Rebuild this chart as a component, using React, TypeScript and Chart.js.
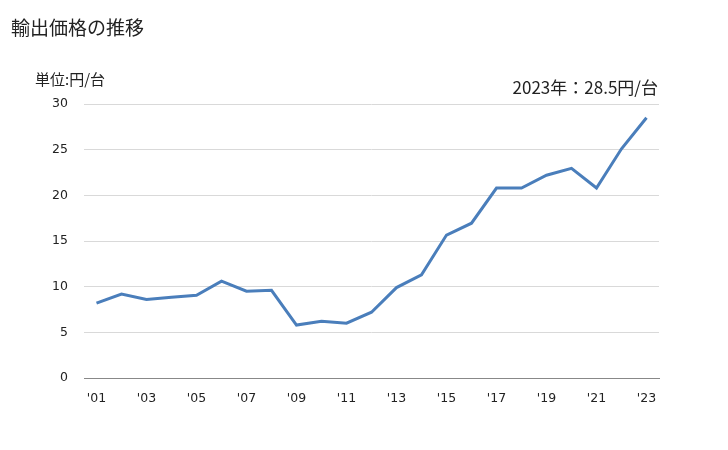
import React, { useEffect, useRef } from "react";
import { Chart, registerables } from "chart.js";

Chart.register(...registerables);

const years: string[] = [
  "'01", "'02", "'03", "'04", "'05", "'06", "'07", "'08", "'09", "'10", "'11", "'12",
  "'13", "'14", "'15", "'16", "'17", "'18", "'19", "'20", "'21", "'22", "'23",
];
const prices: number[] = [
  8.2, 9.2, 8.6, 8.85, 9.05, 10.6, 9.5, 9.6, 5.8, 6.2, 6.0, 7.2,
  9.9, 11.3, 15.65, 16.95, 20.8, 20.8, 22.2, 22.95, 20.8, 25.1, 28.5,
];
const yTicks: number[] = [0, 5, 10, 15, 20, 25, 30];

const title = "輸出価格の推移";
const unitLabel = "単位:円/台";
const latestLabel = "2023年：28.5円/台";

export default function App() {
  const ref = useRef<HTMLCanvasElement | null>(null);

  useEffect(() => {
    if (!ref.current) return;
    const chart = new Chart(ref.current, {
      type: "line",
      data: {
        labels: years,
        datasets: [
          {
            data: prices,
            borderColor: "#4a7ebb",
            borderWidth: 3,
            pointRadius: 0,
            tension: 0,
            fill: false,
          },
        ],
      },
      options: {
        animation: false,
        responsive: false,
        maintainAspectRatio: false,
        layout: { padding: { left: 0, right: 69, top: 104, bottom: 0 } },
        plugins: { legend: { display: false }, tooltip: { enabled: false } },
        scales: {
          x: {
            offset: true,
            grid: { display: false, drawTicks: false },
            border: { display: true, color: "#888888", width: 1 },
            ticks: {
              autoSkip: false,
              maxRotation: 0,
              padding: 13,
              color: "#222222",
              font: { family: "DejaVu Sans", size: 12.5 },
              callback: (_v: any, i: number) => (i % 2 === 0 ? years[i] : ""),
            },
            afterFit: (s: any) => {
              s.height = 72;
            },
          },
          y: {
            min: 0,
            max: 30,
            afterBuildTicks: (s: any) => {
              s.ticks = yTicks.map((v) => ({ value: v }));
            },
            grid: { color: "#d9d9d9", drawTicks: false, lineWidth: 1 },
            border: { display: false },
            ticks: {
              padding: 16,
              color: "#222222",
              font: { family: "DejaVu Sans", size: 12.5 },
            },
            afterFit: (s: any) => {
              s.width = 84;
            },
          },
        },
      },
    });
    return () => chart.destroy();
  }, []);

  const jp = "'Noto Sans CJK JP', 'Noto Sans', sans-serif";
  return (
    <div style={{ position: "fixed", left: 0, top: 0, width: 728, height: 450, background: "#fff" }}>
      <canvas ref={ref} width={728} height={450} style={{ position: "absolute", left: 0, top: 0 }} />
      <div style={{ position: "absolute", left: 11, top: 14, fontFamily: jp, fontSize: 19, color: "#222", lineHeight: "26px", whiteSpace: "nowrap" }}>
        {title}
      </div>
      <div style={{ position: "absolute", left: 35, top: 68, fontFamily: jp, fontSize: 15, color: "#222", lineHeight: "22px", whiteSpace: "nowrap" }}>
        {unitLabel}
      </div>
      <div style={{ position: "absolute", right: 728 - 658, top: 75, fontFamily: jp, fontSize: 17, color: "#222", lineHeight: "24px", whiteSpace: "nowrap" }}>
        {latestLabel}
      </div>
    </div>
  );
}
